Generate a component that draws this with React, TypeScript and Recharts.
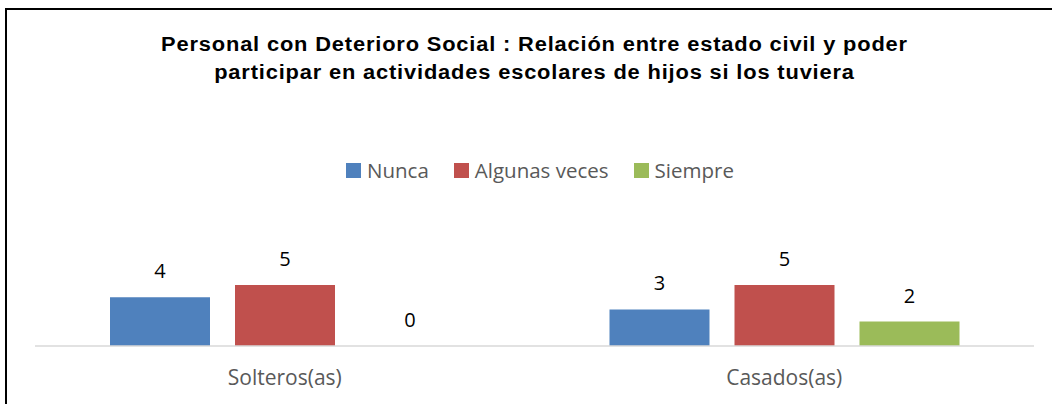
import React from 'react';
import { BarChart, Bar, XAxis, YAxis, Legend, LabelList } from 'recharts';

const categories = ['Solteros(as)', 'Casados(as)'];
const nunca = [4, 3];
const algunasVeces = [5, 5];
const siempre = [0, 2];
const seriesNames = ['Nunca', 'Algunas veces', 'Siempre'];
const seriesColors = ['#4F81BD', '#C0504D', '#9BBB59'];
const titleLines = [
  'Personal con Deterioro Social : Relación entre estado civil y poder',
  'participar en actividades escolares de hijos si los tuviera',
];

const data = categories.map((c, i) => ({
  name: c,
  s0: nunca[i],
  s1: algunasVeces[i],
  s2: siempre[i],
}));

const renderLegend = (props: any) => {
  const payload = [...(props.payload || [])].sort(
    (a: any, b: any) => seriesNames.indexOf(a.value) - seriesNames.indexOf(b.value)
  );
  return (
    <div style={{ display: 'flex', alignItems: 'center', paddingLeft: 346, height: 20 }}>
      {payload.map((p: any, i: number) => (
        <div key={i} style={{ display: 'flex', alignItems: 'center', marginRight: 25 }}>
          <div style={{ width: 15, height: 15, background: p.color, marginRight: 6 }} />
          <span
            style={{
              fontFamily: '"Open Sans"',
              fontSize: 20.5,
              lineHeight: '20px',
              color: '#595959',
              whiteSpace: 'nowrap',
            }}
          >
            {p.value}
          </span>
        </div>
      ))}
    </div>
  );
};

export default function App() {
  return (
    <div
      style={{
        position: 'absolute',
        left: 0,
        top: 0,
        width: 1052,
        height: 404,
        overflow: 'hidden',
        background: '#fff',
      }}
    >
      <div
        style={{
          position: 'absolute',
          left: 5,
          top: 8,
          width: 1200,
          height: 600,
          borderLeft: '2px solid #000',
          borderTop: '2px solid #000',
        }}
      />
      <div
        style={{
          position: 'absolute',
          left: 0,
          top: 29.5,
          width: 1069,
          textAlign: 'center',
          fontFamily: '"Liberation Sans", Arial, sans-serif',
          fontWeight: 'bold',
          fontSize: 19.5,
          lineHeight: '28px',
          letterSpacing: '0.75px',
          color: '#000',
          transform: 'scaleX(1.12)',
          transformOrigin: '534.5px 0',
        }}
      >
        {titleLines.map((l, i) => (
          <div key={i}>{l}</div>
        ))}
      </div>
      <div style={{ position: 'absolute', left: 0, top: 0 }}>
        <BarChart
          width={1052}
          height={404}
          data={data}
          margin={{ top: 224, right: 18, bottom: 0, left: 35 }}
          barGap={25}
          barSize={100}
        >
          <XAxis
            dataKey="name"
            height={58}
            tickLine={false}
            axisLine={{ stroke: '#d9d9d9', strokeWidth: 1.5 }}
            tickMargin={18}
            tick={{ fill: '#595959', fontSize: 21, fontFamily: '"Open Sans"' }}
          />
          <YAxis hide domain={[0, 10]} />
          <Legend
            layout="horizontal"
            verticalAlign="middle"
            align="center"
            content={renderLegend}
            wrapperStyle={{ top: 160, left: 0, width: 1052, height: 20 }}
          />
          {['s0', 's1', 's2'].map((k, i) => (
            <Bar
              key={k}
              dataKey={k}
              name={seriesNames[i]}
              fill={seriesColors[i]}
              minPointSize={0.01}
              isAnimationActive={false}
            >
              <LabelList
                dataKey={k}
                position="top"
                offset={19}
                fill="#000"
                style={{ fontSize: 20, fontFamily: '"Open Sans"' }}
              />
            </Bar>
          ))}
        </BarChart>
      </div>
    </div>
  );
}
